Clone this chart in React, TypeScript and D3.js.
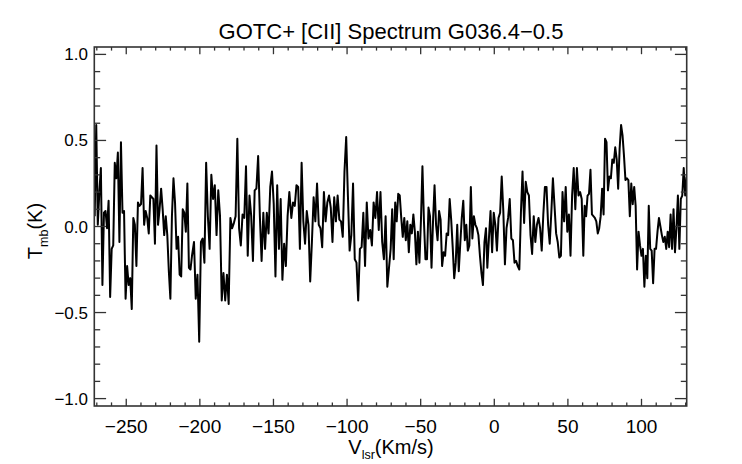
import React from "react";
import * as d3 from "d3";

// ---- Data ----
const segStart = [-271.43, -203.97, -137.86, -70.39, -4.73, 61.38];
const segEnd = [-205.33, -139.22, -72.65, -5.64, 60.47, 130.66];

const segA = [0.06,0.59,0.01,0.20,0.34,-0.34,0.08,0.09,-0.01,0.15,-0.41,-0.13,-0.11,0.37,0.28,0.43,-0.09,0.49,0.08,0.09,-0.42,-0.23,-0.34,-0.30,-0.48,0.05,0.01,-0.23,0.14,0.12,0.13,0.34,0.01,0.09,0.05,-0.04,0.18,0.17,0.16,-0.10,0.47,0.01,0.10,0.22,0.10,-0.05,0.06,-0.05,-0.26,-0.42,0.06,0.28,0.14,-0.13,-0.06,-0.28,-0.29,0.10,0.08,-0.03,0.25,-0.24,-0.25,-0.17];
const segB = [-0.09,-0.42,-0.28,-0.67,-0.09,-0.07,-0.21,0.37,0.06,-0.13,0.30,0.16,0.24,-0.05,0.21,0.06,-0.43,-0.27,-0.43,-0.28,-0.45,0.05,-0.01,0.02,0.06,0.51,-0.01,-0.11,0.07,0.05,0.35,-0.17,0.18,0.06,-0.20,0.21,0.22,0.41,0.06,-0.20,0.08,-0.13,0.08,-0.04,0.23,0.32,0.13,-0.29,0.24,-0.13,0.16,-0.31,-0.10,-0.23,0.06,0.20];
const segC = [0.05,0.14,0.12,0.24,0.23,-0.13,0.37,0.03,-0.10,0.09,0.01,-0.32,-0.09,0.17,0.03,0.25,0.01,-0.01,-0.12,0.20,0.03,0.14,0.18,0.11,-0.09,0.17,0.03,0.18,0.04,0.03,-0.06,0.32,0.52,0.18,-0.14,-0.05,0.25,-0.19,-0.21,-0.43,-0.13,-0.12,0.08,-0.23,0.14,-0.07,-0.02,-0.11,0.14,0.05,0.20,-0.02,0.20,-0.09,-0.19,0.06,-0.35];
const segD = [-0.13,0.10,-0.19,0.14,0.03,0.19,0.18,0.05,-0.06,0.05,-0.08,0.03,-0.15,0.01,-0.04,0.07,-0.03,-0.22,-0.03,-0.21,0.03,0.35,0.03,-0.19,-0.19,0.11,0.06,-0.24,0.03,0.24,0.01,-0.08,0.09,0.04,-0.23,-0.15,-0.17,-0.04,-0.05,0.16,0.04,-0.12,-0.30,-0.21,0.01,-0.26,-0.10,0.05,0.15,-0.08,0.01,-0.14,-0.11,0.23,-0.07,0.06,0.01,-0.01,-0.05,-0.17,-0.27,-0.34,-0.09,-0.01];
const segE = [-0.24,-0.07,0.09,-0.15,0.08,0.01,-0.14,0.05,0.08,0.29,0.09,-0.22,-0.01,0.05,0.16,-0.07,-0.08,-0.21,-0.20,-0.23,-0.25,0.08,0.32,0.02,0.26,0.20,0.18,-0.05,-0.16,0.06,-0.09,0.01,0.05,-0.01,-0.14,0.07,0.23,0.23,0.01,-0.10,0.08,0.28,0.12,-0.04,-0.09,-0.18,-0.17,0.20,0.03,0.23,-0.03,0.07,-0.17,0.18,0.34,0.10,0.34,0.18,0.20,0.16,-0.17];
const segF = [0.12,0.06,0.18,0.19,0.33,0.07,0.06,0.05,0.03,-0.04,-0.01,0.06,0.22,0.07,0.51,0.49,0.21,0.29,0.28,0.39,0.37,0.46,0.39,0.22,0.45,0.59,0.53,0.41,0.27,0.28,0.27,0.06,0.25,0.13,0.23,0.12,-0.25,-0.03,-0.11,-0.17,-0.13,-0.35,-0.17,-0.30,0.12,-0.13,-0.14,-0.33,-0.13,-0.13,-0.03,0.05,0.00,-0.05,-0.09,-0.06,-0.13,-0.03,-0.12,0.07,-0.13,0.10,-0.15,-0.01,0.18,-0.13,0.16,0.18,0.34,0.18,0.29];
const segments = [segA, segB, segC, segD, segE, segF];

const xMajorTicks = [-250, -200, -150, -100, -50, 0, 50, 100];
const yMajorTicks = [-1.0, -0.5, 0.0, 0.5, 1.0];
const xDomain = [-271.7, 130.7];
const yDomain = [-1.043, 1.043];

const TITLE = "GOTC+ [CII] Spectrum G036.4\u22120.5";

// ---- Layout ----
const W = 742, H = 464;
const L = 94.3, R = 686.7, T = 47, B = 406;
const FONT = "'Liberation Sans', Arial, Helvetica, sans-serif";
const AX = "#333";

const fmtMinus = (s: string) => s.replace("-", "\u2212");

export default function App() {
  const x = d3.scaleLinear().domain(xDomain).range([L, R]);
  const y = d3.scaleLinear().domain(yDomain).range([B, T]);

  const points: [number, number][] = [];
  segments.forEach((vals, s) => {
    const vs = d3.scaleLinear().domain([0, vals.length - 1]).range([segStart[s], segEnd[s]]);
    vals.forEach((t, i) => points.push([vs(i), t]));
  });
  const line = d3.line<[number, number]>().x(d => x(d[0])).y(d => y(d[1]));

  const xMinor = d3.range(-270, 131, 10).filter(v => v % 50 !== 0);
  const yMinor = d3.range(-10, 11).map(v => v / 10).filter(v => Math.round(v * 10) % 5 !== 0);

  const xMajLen = 7.2, xMinLen = 3.6, yMajLen = 11.8, yMinLen = 5.9;

  return (
    <svg width={W} height={H} style={{ position: "absolute", left: 0, top: 0, background: "#fff" }}
      fontFamily={FONT}>
      <defs>
        <clipPath id="plotclip"><rect x={L} y={T} width={R - L} height={B - T} /></clipPath>
      </defs>
      <rect x={0} y={0} width={W} height={H} fill="#fff" />
      <path d={line(points) || ""} fill="none" stroke="#000" strokeWidth={2}
        strokeLinejoin="round" clipPath="url(#plotclip)" />
      {/* ticks */}
      <g stroke={AX} strokeWidth={1.3}>
        {xMajorTicks.map(v => (
          <g key={"xM" + v}>
            <line x1={x(v)} x2={x(v)} y1={B} y2={B - xMajLen} />
            <line x1={x(v)} x2={x(v)} y1={T} y2={T + xMajLen} />
          </g>
        ))}
        {xMinor.map(v => (
          <g key={"xm" + v}>
            <line x1={x(v)} x2={x(v)} y1={B} y2={B - xMinLen} />
            <line x1={x(v)} x2={x(v)} y1={T} y2={T + xMinLen} />
          </g>
        ))}
        {yMajorTicks.map(v => (
          <g key={"yM" + v}>
            <line x1={L} x2={L + yMajLen} y1={y(v)} y2={y(v)} />
            <line x1={R} x2={R - yMajLen} y1={y(v)} y2={y(v)} />
          </g>
        ))}
        {yMinor.map(v => (
          <g key={"ym" + v}>
            <line x1={L} x2={L + yMinLen} y1={y(v)} y2={y(v)} />
            <line x1={R} x2={R - yMinLen} y1={y(v)} y2={y(v)} />
          </g>
        ))}
      </g>
      <rect x={L} y={T} width={R - L} height={B - T} fill="none" stroke={AX} strokeWidth={1.6} />
      {/* tick labels */}
      {xMajorTicks.map(v => (
        <text key={"xl" + v} x={x(v)} y={433} textAnchor="middle" fontSize={19} fill="#000">
          {fmtMinus(String(v))}
        </text>
      ))}
      {yMajorTicks.map(v => (
        <text key={"yl" + v} x={88} y={y(v) + 6} textAnchor="end" fontSize={17} fill="#000">
          {fmtMinus(v.toFixed(1))}
        </text>
      ))}
      {/* title */}
      <text x={391} y={39.3} textAnchor="middle" fontSize={22} fill="#000">{TITLE}</text>
      {/* x label */}
      <text x={391} y={454} textAnchor="middle" fontSize={20} fill="#000">
        V<tspan fontSize={12.5} dy={5}>lsr</tspan><tspan dy={-5}>(Km/s)</tspan>
      </text>
      {/* y label */}
      <text transform={`translate(41.7,231) rotate(-90)`} textAnchor="middle" fontSize={20} fill="#000">
        T<tspan fontSize={12.5} dy={6}>mb</tspan><tspan dy={-6}>(K)</tspan>
      </text>
    </svg>
  );
}
